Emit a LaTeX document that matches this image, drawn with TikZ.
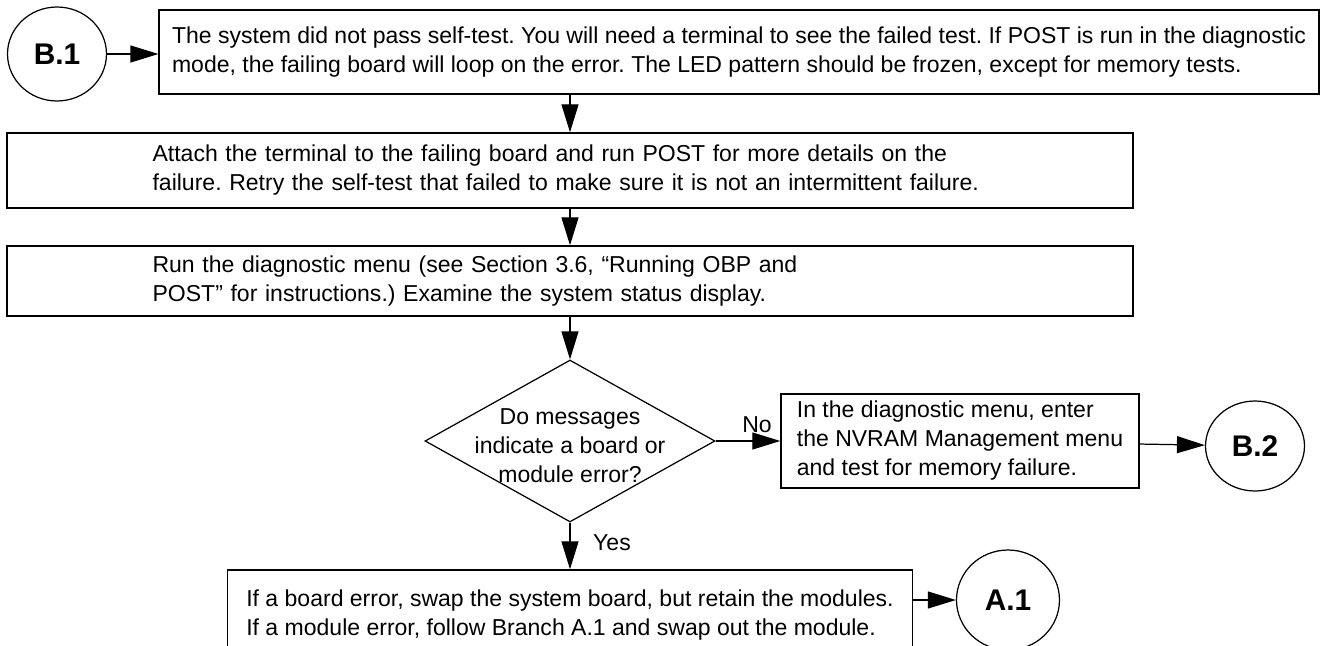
\documentclass[tikz,border=0pt]{standalone}
\usepackage{fontspec}
\setmainfont{Liberation Sans}
\usetikzlibrary{arrows.meta,shapes.geometric}
\frenchspacing

\tikzset{
	stepbox/.style={draw, line width=0.8pt, align=left, inner sep=0pt, font=\fontsize{13.1}{16.5}\selectfont},
	widebox/.style={stepbox, text width=16.7cm, inner xsep=2.91cm, minimum height=#1},
	branch/.style={draw, ellipse, line width=0.7pt, inner sep=0pt, font=\fontsize{17}{20}\selectfont\bfseries},
	flow/.style={line width=0.7pt, -{Triangle[length=0.56cm, width=0.34cm]}},
	tag/.style={inner sep=0pt, font=\fontsize{13.1}{16.5}\selectfont},
}

\begin{document}
\begin{tikzpicture}[x=0.02cm, y=-0.02cm]
	%%%%% START %%%%%
	\useasboundingbox (0,0) rectangle (1320,646);
	
	\node[branch, minimum width=1.98cm, minimum height=1.88cm] (b1) at (57,54) {B.1};
	\node[stepbox, minimum width=23.2cm, minimum height=1.68cm] (fail) at (739,52) {The system did not pass self-test. You will need a terminal to see the failed test. If POST is run in the diagnostic\\mode, the failing board will loop on the error. The LED pattern should be frozen, except for memory tests.};
	
	\node[widebox=1.5cm] (attach) at (570,170.5) {Attach the terminal to the failing board and run POST for more details on the\\failure. Retry the self-test that failed to make sure it is not an intermittent failure.};
	\node[widebox=1.4cm] (menu) at (570,281) {Run the diagnostic menu (see Section 3.6, “Running OBP and\\POST” for instructions.) Examine the system status display.};
	
	\node[draw, diamond, line width=0.7pt, minimum width=5.8cm, minimum height=3.24cm, inner sep=0pt] (ask) at (570,441) {};
	\node[tag, align=center] (askt) at (570,446) {Do messages\\indicate a board or\\module error?};
	
	\node[stepbox, minimum width=7.16cm, minimum height=1.88cm] (nvram) at (960,441) {In the diagnostic menu, enter\\the NVRAM Management menu\\and test for memory failure.};
	\node[branch, minimum width=1.98cm, minimum height=1.8cm] (b2) at (1255,446) {B.2};
	
	\node[stepbox, minimum width=13.7cm, minimum height=1.8cm] (swap) at (570,615) {If a board error, swap the system board, but retain the modules.\\If a module error, follow Branch A.1 and swap out the module.};
	\node[branch, minimum width=2.06cm, minimum height=2.0cm] (a1) at (1008,600) {A.1};
	
	\node[tag] (no) at (757,425) {No};
	\node[tag] (yes) at (612,543) {Yes};
	
	\draw[flow] (b1) -- (b1 -| fail.west);
	\draw[flow] (attach.north |- fail.south) -- (attach.north);
	\draw[flow] (attach) -- (menu);
	\draw[flow] (menu) -- (ask);
	\draw[flow] (ask) -- (nvram);
	\draw[flow] (nvram) -- (b2);
	\draw[flow] (ask) -- (swap);
	\draw[flow] (swap.east |- a1) -- (a1);
	
	%%%%% END %%%%%
\end{tikzpicture}
\end{document}
